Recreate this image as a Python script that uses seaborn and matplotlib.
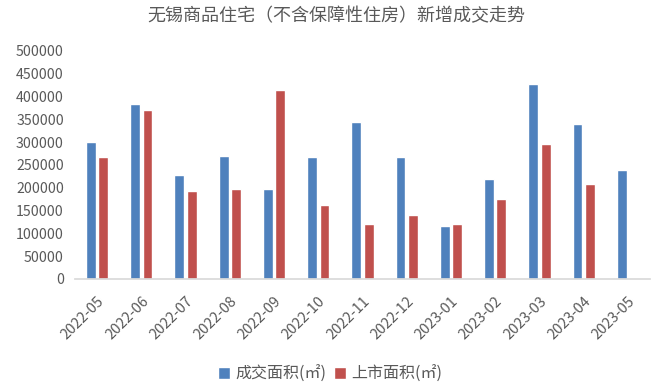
import matplotlib
matplotlib.use("Agg")
import matplotlib.pyplot as plt
import seaborn as sns
import pandas as pd
import numpy as np

months = ["2022-05", "2022-06", "2022-07", "2022-08", "2022-09", "2022-10", "2022-11",
          "2022-12", "2023-01", "2023-02", "2023-03", "2023-04", "2023-05"]
deal_area = [301000, 384000, 228000, 270000, 197000, 267000, 345000,
             268000, 117000, 219000, 428000, 341000, 238000]
supply_area = [267000, 371000, 194000, 197000, 414000, 162000, 121000,
               140000, 121000, 175000, 296000, 208000, np.nan]
series_names = ["成交面积(㎡)", "上市面积(㎡)"]
title = "无锡商品住宅（不含保障性住房）新增成交走势"

df = pd.DataFrame({
    "month": months * 2,
    "value": deal_area + supply_area,
    "series": [series_names[0]] * len(months) + [series_names[1]] * len(months),
})

sns.set_theme(style="white")
plt.rcParams["font.family"] = ["Noto Sans CJK SC", "DejaVu Sans"]

fig = plt.figure(figsize=(6.6, 3.9), dpi=100)
ax = fig.add_axes([75 / 660, 1 - 279 / 390, 575 / 660, 228 / 390])

sns.barplot(data=df, x="month", y="value", hue="series", order=months,
            hue_order=series_names, palette=["#4F81BD", "#C0504D"],
            width=0.56, gap=0.2, ax=ax, legend=True, saturation=1)

ax.set_ylim(0, 500000)
ax.set_yticks(np.arange(0, 500001, 50000))
ax.set_yticklabels([str(v) for v in range(0, 500001, 50000)])
ax.set_xlim(-0.5, len(months) - 0.5)
ax.set_xlabel("")
ax.set_ylabel("")
for s in ["top", "right", "left"]:
    ax.spines[s].set_visible(False)
ax.spines["bottom"].set_color("#D9D9D9")
ax.tick_params(axis="y", length=0, labelsize=10.2, colors="#595959", pad=8)
ax.tick_params(axis="x", length=0, labelsize=10.5, colors="#595959", pad=11)
for lab in ax.get_xticklabels():
    lab.set_rotation(45)
    lab.set_ha("right")
    lab.set_rotation_mode("anchor")

leg = ax.get_legend()
handles = leg.legend_handles
leg.remove()
fig.legend(handles, series_names, loc="center", bbox_to_anchor=(0.5, 1 - 374 / 390),
           ncol=2, frameon=False, fontsize=11.5, handlelength=0.75, handleheight=0.75,
           handletextpad=0.3, columnspacing=0.5, labelcolor="#595959")

fig.text(336 / 660, 1 - 16 / 390, title, ha="center", va="center", fontsize=13, color="#595959")

fig.savefig("out.png", dpi=100)
